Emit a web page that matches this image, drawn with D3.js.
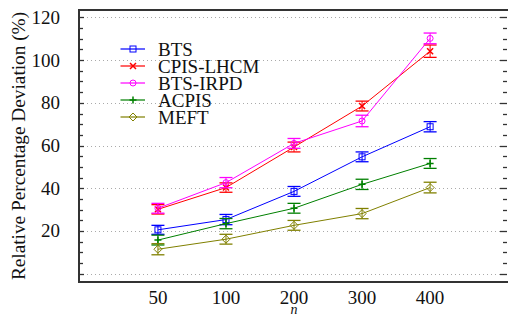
<!DOCTYPE html>
<html>
<head>
<meta charset="utf-8">
<script src="https://cdn.jsdelivr.net/npm/d3@7"></script>
<style>
  body { margin: 0; background: #fff; }
</style>
</head>
<body>
<div id="chart"></div>
<script>
// categories on the x axis
const sizes = ["50", "100", "200", "300", "400"];

// series values (mean %) and error half-widths
const btsMean = [20.5, 25.3, 38.5, 54.7, 68.8];
const btsErr = [2.1, 2.4, 2.3, 2.3, 2.4];
const cpisMean = [30.1, 40.3, 59.3, 78.5, 104.2];
const cpisErr = [2.2, 2.2, 2.3, 2.3, 2.9];
const irpdMean = [30.6, 42.6, 61.0, 71.5, 110.2];
const irpdErr = [2.3, 2.4, 2.3, 2.7, 2.5];
const acpisMean = [15.7, 23.4, 30.6, 41.8, 51.6];
const acpisErr = [2.3, 2.4, 2.3, 2.4, 2.3];
const meftMean = [11.4, 16.1, 22.6, 28.1, 40.3];
const meftErr = [2.6, 2.3, 2.3, 2.4, 2.5];

const seriesNames = ["BTS", "CPIS-LHCM", "BTS-IRPD", "ACPIS", "MEFT"];

const yTicks = [20, 40, 60, 80, 100, 120];

const FONT = "'Liberation Serif'";

let series = [
    {name: "BTS", mean: btsMean, err: btsErr, color: "#0000ff", marker: "square"},
    {name: "CPIS-LHCM", mean: cpisMean, err: cpisErr, color: "#ff0000", marker: "cross"},
    {name: "BTS-IRPD", mean: irpdMean, err: irpdErr, color: "#ff00ff", marker: "circle"},
    {name: "ACPIS", mean: acpisMean, err: acpisErr, color: "#008000", marker: "plus"},
    {name: "MEFT", mean: meftMean, err: meftErr, color: "#808000", marker: "diamond"}
];

let margin = {top: 10, right: 1, bottom: 41, left: 79};
let width = 508 - margin.left - margin.right,
    height = 323 - margin.top - margin.bottom;

let svg = d3.select("#chart").append("svg")
    .attr("width", 508)
    .attr("height", 323)
    .append("g")
    .attr("transform", "translate(" + margin.left + "," + margin.top + ")");

// scales: index positions of the categories
let x = d3.scaleLinear()
    .domain([-0.16, 6.13])
    .range([0, width]);

let y = d3.scaleLinear()
    .domain([-3.95, 123.5])
    .range([height, 0]);

// dotted grid lines
svg.selectAll(".grid")
    .data([0].concat(yTicks))
    .enter().append("line")
    .attr("class", "grid")
    .attr("x1", 0)
    .attr("x2", width)
    .attr("y1", d => Math.round(y(d)) + 0.5)
    .attr("y2", d => Math.round(y(d)) + 0.5)
    .style("stroke", "#aaa")
    .style("stroke-width", 1)
    .style("stroke-dasharray", "1,3");

// minor ticks every 5 (inward, left and right)
let minor = d3.range(0, 121, 5);
svg.selectAll(".ltick")
    .data(minor)
    .enter().append("line")
    .attr("x1", 0)
    .attr("x2", d => d % 20 === 0 ? 5 : 4)
    .attr("y1", d => Math.round(y(d)) + 0.5)
    .attr("y2", d => Math.round(y(d)) + 0.5)
    .style("stroke", "#333")
    .style("stroke-width", 1.3);

svg.selectAll(".rtick")
    .data(minor)
    .enter().append("line")
    .attr("x1", width)
    .attr("x2", d => d % 20 === 0 ? width - 7 : width - 4)
    .attr("y1", d => Math.round(y(d)) + 0.5)
    .attr("y2", d => Math.round(y(d)) + 0.5)
    .style("stroke", "#333")
    .style("stroke-width", 1.3);

// frame
svg.append("line")
    .attr("x1", -1).attr("x2", width + 2)
    .attr("y1", 0).attr("y2", 0)
    .style("stroke", "#333").style("stroke-width", 2);
svg.append("line")
    .attr("x1", -1).attr("x2", width + 2)
    .attr("y1", height).attr("y2", height)
    .style("stroke", "#333").style("stroke-width", 2);
svg.append("line")
    .attr("x1", 0).attr("x2", 0)
    .attr("y1", 0).attr("y2", height)
    .style("stroke", "#333").style("stroke-width", 2);

// y tick labels
svg.selectAll(".ylab")
    .data(yTicks)
    .enter().append("text")
    .attr("x", -19)
    .attr("y", d => y(d) + 6.5)
    .style("font-family", FONT)
    .style("text-anchor", "end")
    .style("font-size", "19px")
    .style("fill", "#111")
    .text(d => d);

// x tick labels
svg.selectAll(".xlab")
    .data(sizes)
    .enter().append("text")
    .attr("x", (d, i) => x(i + 1))
    .attr("y", height + 22)
    .style("font-family", FONT)
    .style("text-anchor", "middle")
    .style("font-size", "19px")
    .style("fill", "#111")
    .text(d => d);

// axis titles
svg.append("text")
    .attr("x", x(3))
    .attr("y", height + 32)
    .style("font-family", FONT)
    .style("text-anchor", "middle")
    .style("font-size", "14px")
    .style("font-style", "italic")
    .style("fill", "#111")
    .text("n");

svg.append("text")
    .attr("transform", "translate(" + (-54) + "," + (height / 2) + ") rotate(-90)")
    .style("font-family", FONT)
    .style("text-anchor", "middle")
    .style("font-size", "19.3px")
    .style("fill", "#111")
    .text("Relative Percentage Deviation (%)");

// marker drawing
function drawMarker(g, type, color) {
    let s = 3;
    if (type === "square") {
        g.append("rect").attr("x", -s).attr("y", -s).attr("width", 2 * s).attr("height", 2 * s)
            .style("fill", "none").style("stroke", color);
    } else if (type === "circle") {
        g.append("circle").attr("r", s)
            .style("fill", "none").style("stroke", color);
    } else if (type === "diamond") {
        g.append("path").attr("d", "M0,-4L4,0L0,4L-4,0Z")
            .style("fill", "none").style("stroke", color);
    } else if (type === "cross") {
        g.append("path").attr("d", "M-3,-3L3,3M-3,3L3,-3")
            .style("stroke", color).style("stroke-width", 1.5);
    } else if (type === "plus") {
        g.append("path").attr("d", "M-3.5,0L3.5,0M0,-3.5L0,3.5")
            .style("stroke", color).style("stroke-width", 1.5);
    }
}

let line = d3.line()
    .x((d, i) => x(i + 1))
    .y(d => y(d));

series.forEach(function (s) {
    let g = svg.append("g");

    g.append("path")
        .datum(s.mean)
        .attr("d", line)
        .style("fill", "none")
        .style("stroke", s.color)
        .style("stroke-width", 1);

    s.mean.forEach(function (m, i) {
        let cx = x(i + 1);
        let lo = y(m - s.err[i]), hi = y(m + s.err[i]);
        g.append("line").attr("x1", cx).attr("x2", cx).attr("y1", lo).attr("y2", hi)
            .style("stroke", s.color);
        [lo, hi].forEach(function (yy) {
            g.append("line").attr("x1", cx - 6.5).attr("x2", cx + 6.5).attr("y1", yy).attr("y2", yy)
                .style("stroke", s.color).style("stroke-width", 1.3);
        });
        let mg = g.append("g").attr("transform", "translate(" + cx + "," + y(m) + ")");
        drawMarker(mg, s.marker, s.color);
    });
});

// legend
let legend = svg.append("g")
    .attr("transform", "translate(" + (120.5 - margin.left) + "," + (49 - margin.top) + ")");

series.forEach(function (s, i) {
    let row = legend.append("g").attr("transform", "translate(0," + (i * 17) + ")");
    row.append("line")
        .attr("x1", 0).attr("x2", 24.5).attr("y1", 0).attr("y2", 0)
        .style("stroke", s.color).style("stroke-width", 2).style("opacity", 0.6);
    let mg = row.append("g").attr("transform", "translate(12.5,0)");
    drawMarker(mg, s.marker, s.color);
    row.append("text")
        .attr("x", 37.5)
        .attr("y", 7)
        .style("font-family", FONT)
        .style("font-size", "19px")
        .style("fill", "#111")
        .text(seriesNames[i]);
});
</script>
</body>
</html>
